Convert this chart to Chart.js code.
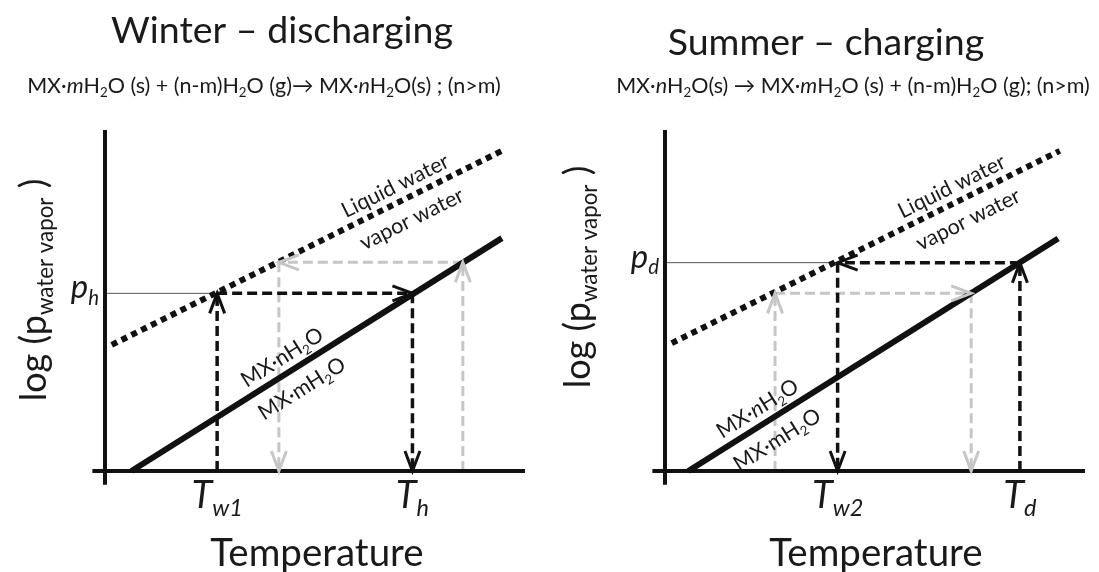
<!DOCTYPE html>
<html>
<head>
<meta charset="utf-8">
<script src="https://cdn.jsdelivr.net/npm/chart.js@4.4.1/dist/chart.umd.min.js"></script>
<style>
  html, body { margin: 0; padding: 0; background: #fff; }
  body { width: 1099px; height: 572px; position: relative; overflow: hidden; }
  .panel { position: absolute; top: 0; width: 540px; height: 572px; }
  #winter { left: 0; }
  #summer { left: 560px; }
</style>
</head>
<body>
<div class="panel" id="winter"><canvas id="winterChart"></canvas></div>
<div class="panel" id="summer"><canvas id="summerChart"></canvas></div>
<script>
// axis extents, in chart units (temperature / log p)
const axisT = [-0.3, 10];
const axisP = [-0.4, 10];

// Winter – discharging
const winterSaltT = [0.63, 9.45];
const winterSaltP = [0.0, 6.83];
const winterWaterT = [0.16, 9.45];
const winterWaterP = [3.70, 9.39];
const winterCycleT = [2.67, 7.32];   // T_w1, T_h
const winterCycleP = 5.21;           // p_h
const winterGreyT = [4.14, 8.52];
const winterGreyP = 6.12;
const winterTickLabels = ["*T_{w1}*", "*T_{h}*"];
const winterPLabel = "*p_{h}*";

// Summer – charging
const summerSaltT = [0.555, 9.36];
const summerSaltP = [0.0, 6.82];
const summerWaterT = [0.16, 9.40];
const summerWaterP = [3.75, 9.39];
const summerCycleT = [4.11, 8.45];   // T_w2, T_d
const summerCycleP = 6.11;           // p_d
const summerGreyT = [2.62, 7.29];
const summerGreyP = 5.21;
const summerTickLabels = ["*T_{w2}*", "*T_{d}*"];
const summerPLabel = "*p_{d}*";

const FONT = 'Lato, "Open Sans", "DejaVu Sans", sans-serif';
const INK = "#111";
const TEXT = "#1a1a1a";
const GREY = "#c6c6c6";

function parseRich(str) {
  const segs = [];
  let italic = false, sub = false, buf = "";
  const push = () => { if (buf) segs.push({ t: buf, i: italic, s: sub }); buf = ""; };
  for (let k = 0; k < str.length; k++) {
    const c = str[k];
    if (c === "*") { push(); italic = !italic; }
    else if (c === "_" && str[k + 1] === "{") { push(); sub = true; k++; }
    else if (c === "}" && sub) { push(); sub = false; }
    else buf += c;
  }
  push();
  return segs;
}

function drawRich(ctx, str, x, y, size, align) {
  const segs = parseRich(str);
  const font = s => (s.i ? "italic " : "") + (s.s ? size * 0.62 : size) + "px " + FONT;
  let w = 0;
  segs.forEach(s => { ctx.font = font(s); s.w = ctx.measureText(s.t).width; w += s.w; });
  let cx = align === "center" ? x - w / 2 : align === "right" ? x - w : x;
  ctx.fillStyle = TEXT;
  ctx.textAlign = "left";
  ctx.textBaseline = "alphabetic";
  segs.forEach(s => {
    ctx.font = font(s);
    ctx.fillText(s.t, cx, y + (s.s ? size * 0.2 : 0));
    cx += s.w;
  });
}

function pts(ts, ps) {
  return ts.map((t, i) => ({ x: t, y: ps[i] }));
}

// up from the axis, across at level p, back down to the axis
function cycle(tFrom, tTo, p) {
  return [
    [{ x: tFrom, y: 0 }, { x: tFrom, y: p }],
    [{ x: tFrom, y: p }, { x: tTo, y: p }],
    [{ x: tTo, y: p }, { x: tTo, y: 0 }]
  ];
}

function line(data, color, width, dash, extra) {
  return Object.assign({
    data: data, showLine: true, borderColor: color, borderWidth: width,
    borderDash: dash || [], pointRadius: 0, fill: false, tension: 0, clip: false
  }, extra || {});
}

const arrowPlugin = {
  id: "arrows",
  afterDatasetsDraw(chart) {
    const ctx = chart.ctx;
    for (let i = chart.data.datasets.length - 1; i >= 0; i--) {
      const ds = chart.data.datasets[i];
      if (!ds.arrow) continue;
      const p = chart.getDatasetMeta(i).data;
      const a = p[p.length - 2], b = p[p.length - 1];
      const ang = Math.atan2(b.y - a.y, b.x - a.x);
      const L = 20, H = 7.5;
      const ux = Math.cos(ang), uy = Math.sin(ang);
      ctx.save();
      ctx.strokeStyle = ds.borderColor;
      ctx.lineWidth = 3;
      ctx.lineJoin = "miter";
      ctx.beginPath();
      ctx.moveTo(b.x - L * ux - H * uy, b.y - L * uy + H * ux);
      ctx.lineTo(b.x, b.y);
      ctx.lineTo(b.x - L * ux + H * uy, b.y - L * uy - H * ux);
      ctx.stroke();
      ctx.restore();
    }
  }
};

function textPlugin(cfg) {
  return {
    id: "texts",
    afterDraw(chart) {
      const ctx = chart.ctx;
      const xs = chart.scales.x, ys = chart.scales.y;
      ctx.save();
      drawRich(ctx, cfg.title, cfg.titleX, cfg.titleY, 37.5, "center");
      drawRich(ctx, cfg.equation, cfg.eqX, cfg.eqY, 21.5, "center");
      drawRich(ctx, "Temperature", cfg.tempX, 566, 38.5, "center");
      // y axis title
      ctx.save();
      ctx.translate(cfg.ylabX, cfg.ylabY);
      ctx.rotate(-Math.PI / 2);
      drawRich(ctx, "log (p_{water vapor} )", 0, 0, 36, "center");
      ctx.restore();
      // pressure level label
      drawRich(ctx, cfg.pLabel, xs.getPixelForValue(0) - 6, ys.getPixelForValue(cfg.pValue) + 5, 33, "right");
      // temperature tick labels
      cfg.ticks.forEach((t, i) => {
        drawRich(ctx, cfg.tickLabels[i], xs.getPixelForValue(t), ys.getPixelForValue(0) + 37, 38, "center");
      });
      // labels along the equilibrium lines
      cfg.lineLabels.forEach(lb => {
        const idx = chart.data.datasets.findIndex(d => d.key === lb.key);
        const p = chart.getDatasetMeta(idx).data;
        const a = p[0], b = p[p.length - 1];
        const ang = Math.atan2(b.y - a.y, b.x - a.x);
        ctx.save();
        ctx.translate(a.x + (b.x - a.x) * lb.t, a.y + (b.y - a.y) * lb.t);
        ctx.rotate(ang);
        drawRich(ctx, lb.above, 0, -9, 21.5, "center");
        drawRich(ctx, lb.below, 0, 28, 21.5, "center");
        ctx.restore();
      });
      ctx.restore();
    }
  };
}

function buildChart(id, d, cfg) {
  const layers = [];
  d.grey.forEach(s => layers.push(line(s, GREY, 3, [10, 5], { arrow: true })));
  layers.push(line([{ x: 0, y: d.p }, { x: d.guideT, y: d.p }], "#555", 1));
  layers.push(line(d.water, INK, 6, [6, 5], { key: "water" }));
  layers.push(line(d.salt, INK, 6, [], { key: "salt" }));
  d.black.forEach(s => layers.push(line(s, INK, 3.5, [10, 5], { arrow: true })));
  layers.push(line([{ x: axisT[0], y: 0 }, { x: axisT[1], y: 0 }], INK, 4));
  layers.push(line([{ x: 0, y: axisP[0] }, { x: 0, y: axisP[1] }], INK, 4));
  layers.reverse(); // dataset 0 is painted last

  return new Chart(document.getElementById(id), {
    type: "scatter",
    data: { datasets: layers },
    options: {
      responsive: true,
      maintainAspectRatio: false,
      animation: false,
      events: [],
      layout: { padding: { left: 84, right: 4.5, top: 123.2, bottom: 80.54 } },
      plugins: { legend: { display: false }, tooltip: { enabled: false } },
      scales: {
        x: { type: "linear", min: -0.5, max: 10.25, display: false },
        y: { type: "linear", min: -0.6, max: 10.2, display: false }
      }
    },
    plugins: [arrowPlugin, textPlugin(cfg)]
  });
}

buildChart("winterChart", {
  salt: pts(winterSaltT, winterSaltP),
  water: pts(winterWaterT, winterWaterP),
  black: cycle(winterCycleT[0], winterCycleT[1], winterCycleP),
  grey: cycle(winterGreyT[1], winterGreyT[0], winterGreyP),
  p: winterCycleP,
  guideT: winterCycleT[0]
}, {
  title: "Winter – discharging", titleX: 282, titleY: 43,
  equation: "MX·*m*H_{2}O (s) + (n-m)H_{2}O (g)→ MX·*n*H_{2}O(s) ; (n>m)", eqX: 264, eqY: 93,
  tempX: 317, ylabX: 46, ylabY: 290,
  pLabel: winterPLabel, pValue: winterCycleP,
  ticks: winterCycleT, tickLabels: winterTickLabels,
  lineLabels: [
    { key: "water", t: 0.745, above: "Liquid water", below: "vapor water" },
    { key: "salt", t: 0.43, above: "MX·nH_{2}O", below: "MX·mH_{2}O" }
  ]
});

buildChart("summerChart", {
  salt: pts(summerSaltT, summerSaltP),
  water: pts(summerWaterT, summerWaterP),
  black: cycle(summerCycleT[1], summerCycleT[0], summerCycleP),
  grey: cycle(summerGreyT[0], summerGreyT[1], summerGreyP),
  p: summerCycleP,
  guideT: summerCycleT[0]
}, {
  title: "Summer – charging", titleX: 266, titleY: 55,
  equation: "MX·*n*H_{2}O(s) → MX·*m*H_{2}O (s) + (n-m)H_{2}O (g); (n>m)", eqX: 293, eqY: 93,
  tempX: 316, ylabX: 30, ylabY: 277,
  pLabel: summerPLabel, pValue: summerCycleP,
  ticks: summerCycleT, tickLabels: summerTickLabels,
  lineLabels: [
    { key: "water", t: 0.74, above: "Liquid water", below: "vapor water" },
    { key: "salt", t: 0.21, above: "MX·*n*H_{2}O", below: "MX·mH_{2}O" }
  ]
});
</script>
</body>
</html>
